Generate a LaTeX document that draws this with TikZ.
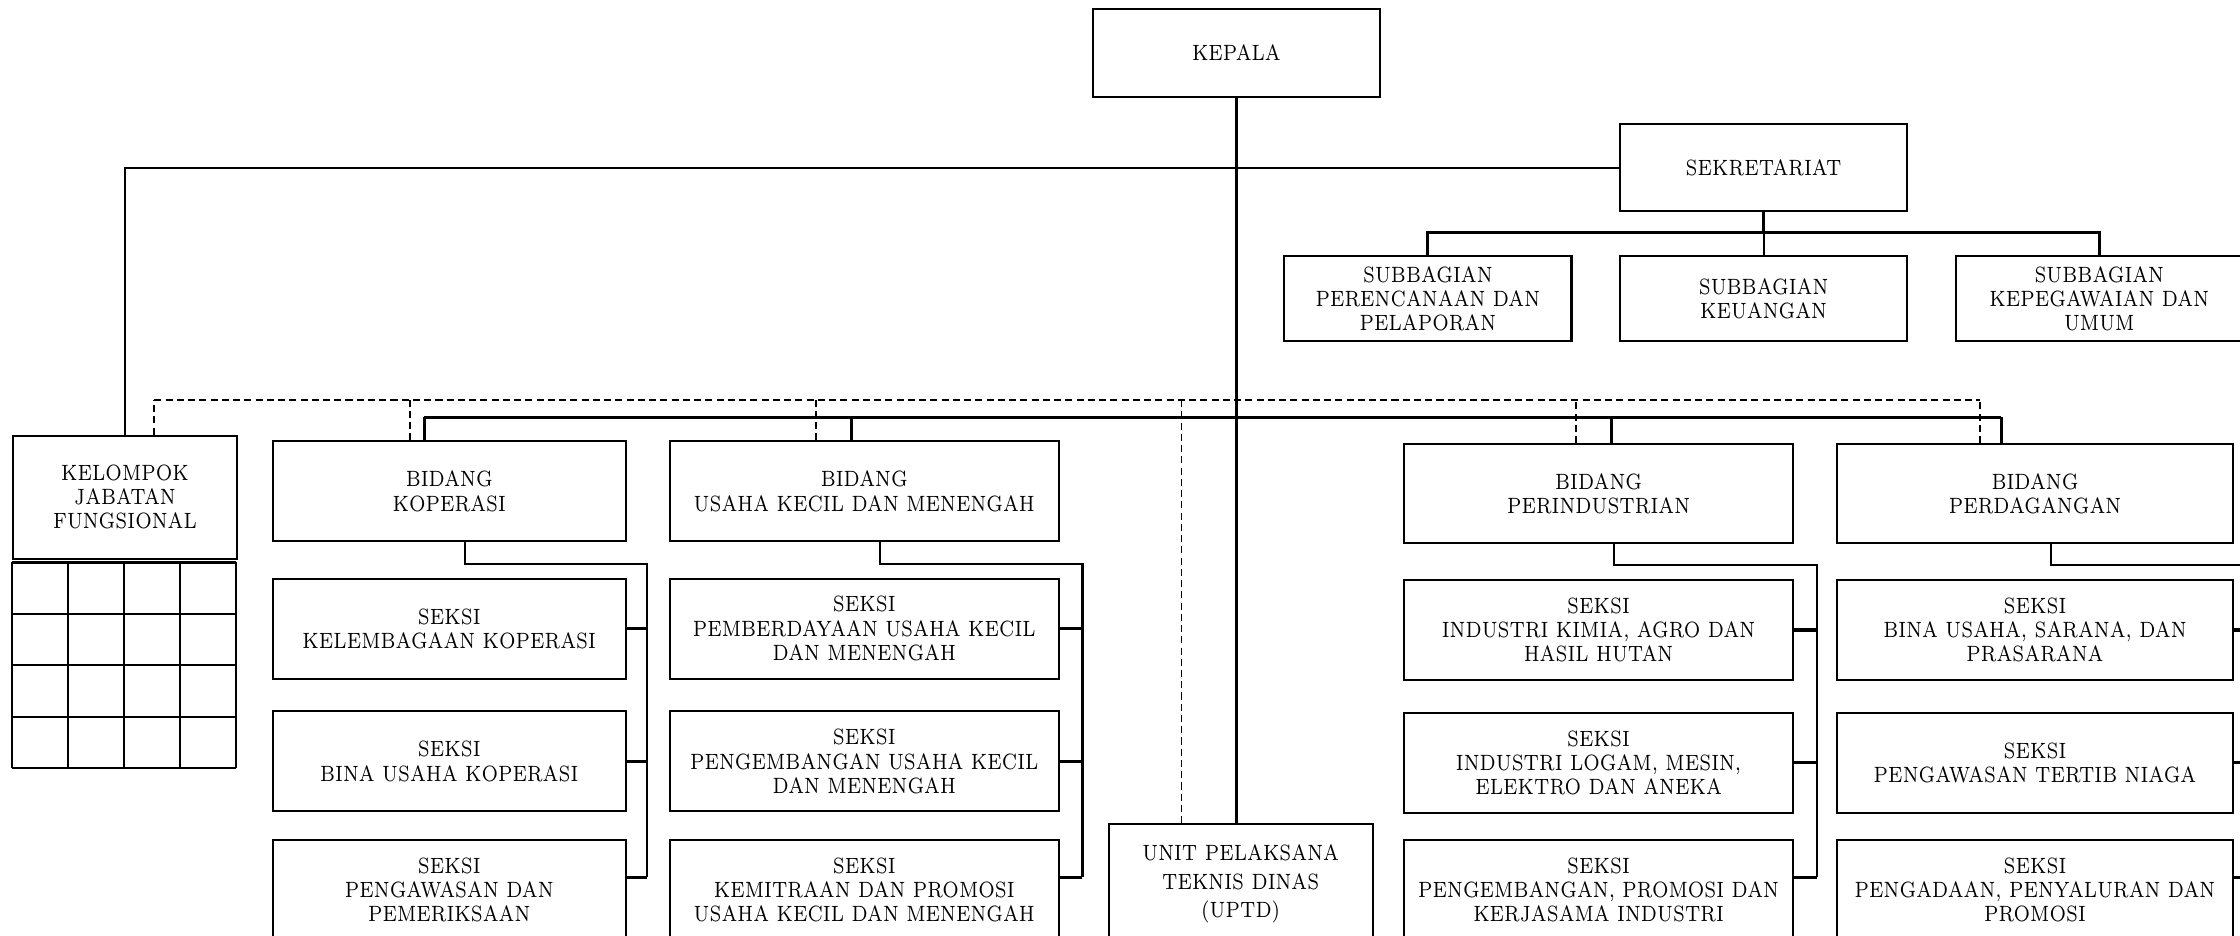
\documentclass[tikz,border=0pt]{standalone}
\usepackage{fontspec}
\setmainfont{Latin Modern Roman}[FakeStretch=0.8]
\usetikzlibrary{positioning,calc}
\tikzset{
  unit/.style 2 args={draw, line width=0.6pt, align=center, inner sep=0pt,
    minimum width=#1*0.142857mm, minimum height=#2*0.142857mm,
    font=\fontsize{6.3}{6.9}\selectfont},
  link/.style={line width=0.6pt},
  trunk/.style={line width=0.9pt},
  staff/.style={line width=0.5pt, dash pattern=on 2pt off 1.2pt},
  cell/.style={line width=0.6pt}
}
\begin{document}
\begin{tikzpicture}[x=0.142857mm, y=-0.142857mm]
            \useasboundingbox (0,0) rectangle (1568,655);
            \node[unit={201}{62}] (kepala) at (865.5,37) {KEPALA};
            \node[unit={201}{61}] (sekretariat) at (1234.5,117.5) {SEKRETARIAT};
            \node[unit={201}{60}] (sub1) at (999.5,209) {SUBBAGIAN\\PERENCANAAN DAN\\PELAPORAN};
            \node[unit={201}{60}] (sub2) at (1234.5,209) {SUBBAGIAN\\KEUANGAN};
            \node[unit={201}{60}] (sub3) at (1469.5,209) {SUBBAGIAN\\KEPEGAWAIAN DAN\\UMUM};
            \node[unit={157}{86}] (kelompok) at (87.5,348) {KELOMPOK\\JABATAN\\FUNGSIONAL};
            \node[unit={247}{70}] (kop) at (314.5,344) {BIDANG\\KOPERASI};
            \node[unit={272}{70}] (ukm) at (605,344) {BIDANG\\USAHA KECIL DAN MENENGAH};
            \node[unit={272}{69}] (ind) at (1119,345.5) {BIDANG\\PERINDUSTRIAN};
            \node[unit={277}{69}] (dag) at (1424.5,345.5) {BIDANG\\PERDAGANGAN};
            \node[unit={185}{84}, font=\fontsize{6.3}{8.1}\selectfont] (uptd) at (868.5,619) {UNIT PELAKSANA\\TEKNIS DINAS\\(UPTD)};
            \node[unit={247}{70}] (kop1) at (314.5,440) {SEKSI\\KELEMBAGAAN KOPERASI};
            \node[unit={247}{70}] (kop2) at (314.5,533) {SEKSI\\BINA USAHA KOPERASI};
            \node[unit={247}{70}] (kop3) at (314.5,623) {SEKSI\\PENGAWASAN DAN\\PEMERIKSAAN};
            \node[unit={272}{70}] (ukm1) at (605,440) {SEKSI\\PEMBERDAYAAN USAHA KECIL\\DAN MENENGAH};
            \node[unit={272}{70}] (ukm2) at (605,533) {SEKSI\\PENGEMBANGAN USAHA KECIL\\DAN MENENGAH};
            \node[unit={272}{70}] (ukm3) at (605,623) {SEKSI\\KEMITRAAN DAN PROMOSI\\USAHA KECIL DAN MENENGAH};
            \node[unit={272}{70}] (ind1) at (1119,441) {SEKSI\\INDUSTRI KIMIA, AGRO DAN\\HASIL HUTAN};
            \node[unit={272}{70}] (ind2) at (1119,534) {SEKSI\\INDUSTRI LOGAM, MESIN,\\ELEKTRO DAN ANEKA};
            \node[unit={272}{70}] (ind3) at (1119,623) {SEKSI\\PENGEMBANGAN, PROMOSI DAN\\KERJASAMA INDUSTRI};
            \node[unit={277}{70}] (dag1) at (1424.5,441) {SEKSI\\BINA USAHA, SARANA, DAN\\PRASARANA};
            \node[unit={277}{70}] (dag2) at (1424.5,534) {SEKSI\\PENGAWASAN TERTIB NIAGA};
            \node[unit={277}{70}] (dag3) at (1424.5,623) {SEKSI\\PENGADAAN, PENYALURAN DAN\\PROMOSI};
            \coordinate (g) at ($(kelompok.south west)+(0,2)$);
            \foreach \r in {0,...,4}
                \draw[cell] ($(g)+(0,\r*36)$) -- ++(157,0);
            \foreach \c in {0,...,4}
                \draw[cell] ($(g)+(\c*39.25,0)$) -- ++(0,144);
            \draw[trunk] (kepala.south) -- (kepala.south |- uptd.north);
            \draw[link] (sekretariat.west) -| (kelompok.north);
            \coordinate (sbus) at (0,163);
            \draw[trunk] (sekretariat.south) -- (sekretariat.south |- sbus);
            \draw[trunk] (sub1.north) |- (sbus -| sub3.north) -- (sub3.north);
            \draw[link] (sub2.north) -- (sub2.north |- sbus);
            \coordinate (bus) at (0,292);
            \foreach \n/\d in {kop/-17.5, ukm/-9, ind/9, dag/-23.5} {
                \coordinate (\n-in) at ($(\n.north)+(\d,0)$);
                \draw[trunk] (\n-in) -- (\n-in |- bus);
            }
            \draw[trunk] (kop-in |- bus) -- (dag-in |- bus);
            \coordinate (staffline) at (0,280);
            \foreach \n/\d in {kelompok/20.5, kop/-27.5, ukm/-34, uptd/-41.5, ind/-16, dag/-38.5} {
                \coordinate (\n-st) at ($(\n.north)+(\d,0)$);
                \draw[staff] (\n-st) -- (\n-st |- staffline);
            }
            \draw[staff] (kelompok-st |- staffline) -- (dag-st |- staffline);
            \foreach \n/\g in {kop/14, ukm/16, ind/16, dag/16} {
                \draw[link] ($(\n.south)+(11,0)$) -- ++(0,15) -| ($(\n3.east)+(\g,-9)$);
                \draw[trunk] ($(\n3.east)+(\g,-9)$) -- ($(\n3.east)+(0,-9)$);
                \foreach \i in {1,2}
                    \draw[trunk] (\n\i.east) -- ++(\g,0);
            }
\end{tikzpicture}
\end{document}
